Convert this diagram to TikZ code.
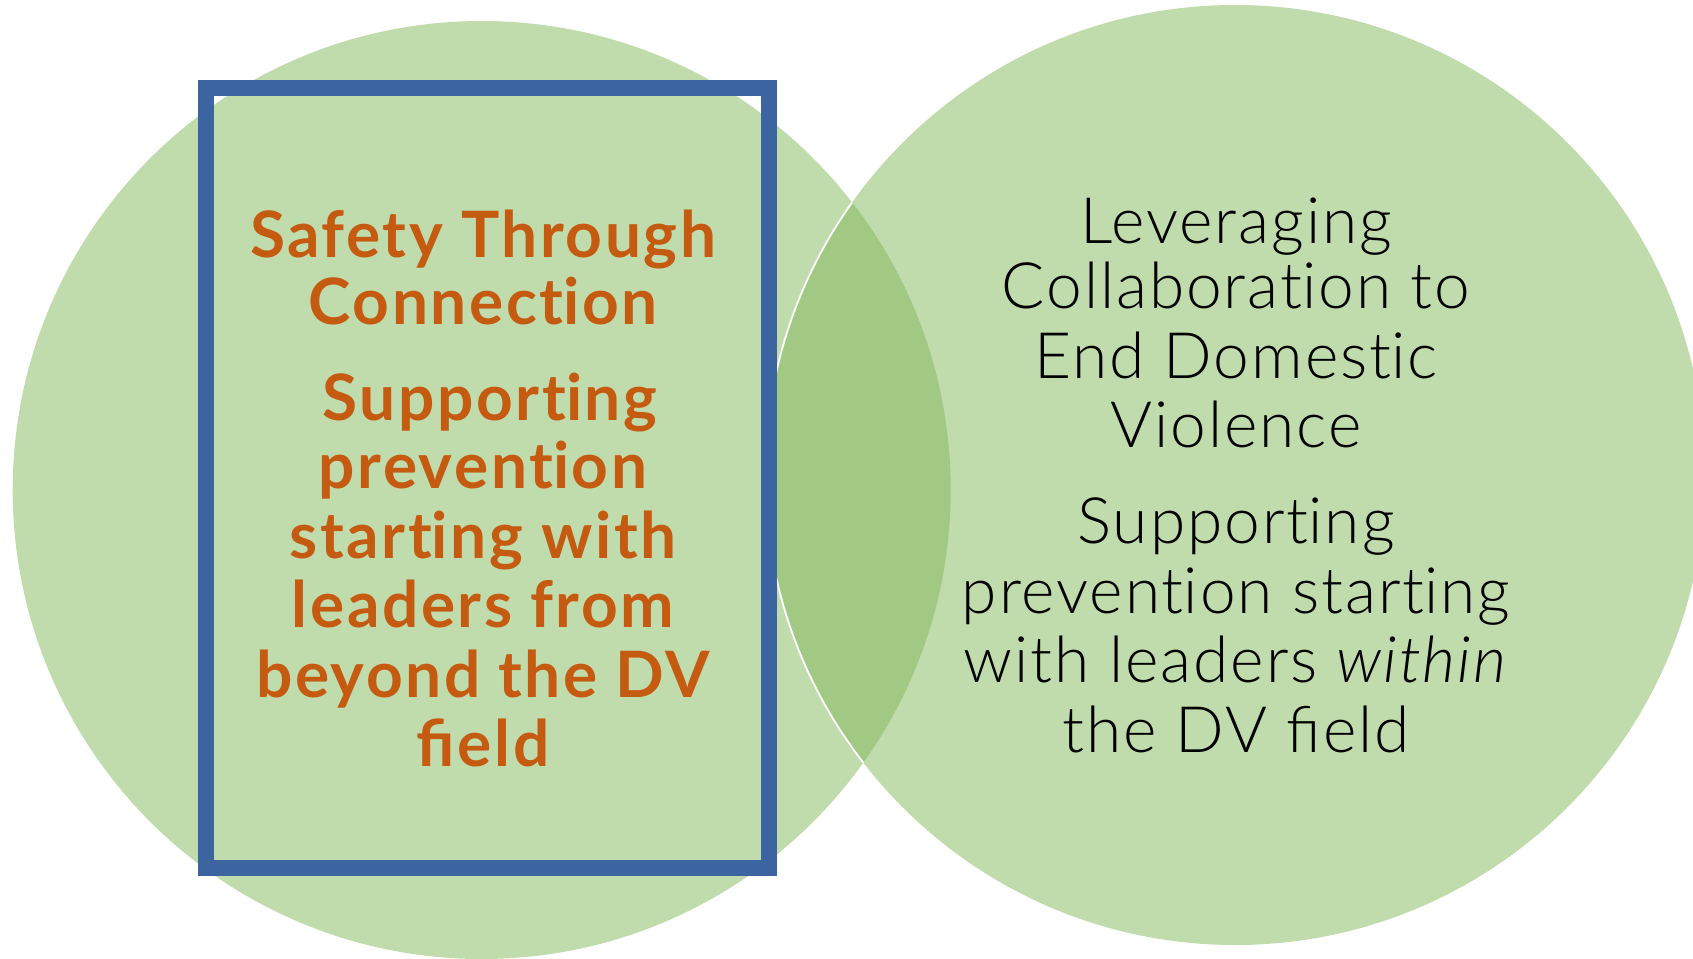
\documentclass[tikz,border=0pt]{standalone}
\usepackage{fontspec}
\setmainfont{Lato}[LetterSpace=4]
\newfontfamily\lightfont{Lato Light}[LetterSpace=3]
\newcommand\nolig{\kern0pt}
\definecolor{circgreen}{HTML}{C0DCAC}
\definecolor{lensgreen}{HTML}{A2C984}
\definecolor{boxblue}{HTML}{3B64A0}
\definecolor{titleorange}{HTML}{C55A11}
\tikzset{
  lefttxt/.style={anchor=base, inner sep=0pt, text=titleorange, font=\fontsize{64}{70}\selectfont\bfseries},
  righttxt/.style={anchor=base, inner sep=0pt, text=black, font=\fontsize{64}{70}\selectfont\lightfont},
  framebox/.style={draw=boxblue, line width=16pt},
}
\begin{document}
\begin{tikzpicture}[x=1pt,y=-1pt]
\useasboundingbox (0,0) rectangle (1693,958);
% circles
\fill[circgreen] (481.7,490) circle[radius=469pt];
\fill[circgreen] (1235,475) circle[radius=470pt];
\begin{scope}
  \clip (481.7,490) circle[radius=469pt];
  \fill[lensgreen] (1235,475) circle[radius=470pt];
\end{scope}
\begin{scope}
  \clip (481.7,490) circle[radius=469pt];
  \draw[white, line width=1.8pt] (1235,475) circle[radius=470pt];
\end{scope}
% frame
\draw[framebox] (206,88) rectangle (769,868);
% left text
\node[lefttxt] (l1) at (483,257) {Safety Through};
\node[lefttxt] (l2) at (483,324) {Connect\nolig ion};
\node[lefttxt] (l3) at (490,420) {Support\nolig ing};
\node[lefttxt] (l4) at (483,488) {prevent\nolig ion};
\node[lefttxt] (l5) at (483,558) {start\nolig ing with};
\node[lefttxt] (l6) at (483,627) {leaders from};
\node[lefttxt] (l7) at (483,697) {beyond the DV};
\node[lefttxt] (l8) at (483,766) {field};
% right text
\node[righttxt] (r1) at (1236,243) {Leveraging};
\node[righttxt] (r2) at (1236,308) {Collaborat\nolig ion to};
\node[righttxt] (r3) at (1236,378) {End Domest\nolig ic};
\node[righttxt] (r4) at (1236,447) {Violence};
\node[righttxt] (r5) at (1236,543) {Support\nolig ing};
\node[righttxt] (r6) at (1236,613) {prevent\nolig ion start\nolig ing};
\node[righttxt] (r7) at (1236,682) {with leaders \textit{within}};
\node[righttxt] (r8) at (1236,752) {the DV field};
\end{tikzpicture}
\end{document}
